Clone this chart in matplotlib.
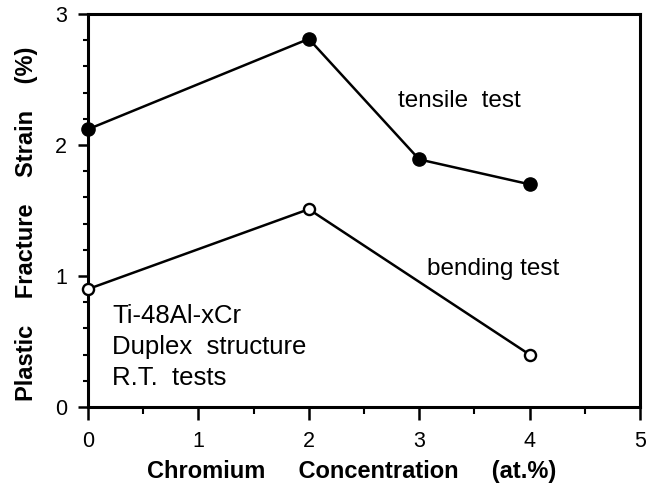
import matplotlib
matplotlib.use("Agg")
import matplotlib.pyplot as plt
from matplotlib.ticker import MultipleLocator

plt.rcParams['font.family'] = ['Liberation Sans', 'DejaVu Sans']

tensile_x = [0, 2, 3, 4]
tensile_y = [2.12, 2.81, 1.89, 1.70]
bending_x = [0, 2, 4]
bending_y = [0.90, 1.51, 0.40]

xticks = [0, 1, 2, 3, 4, 5]
yticks = [0, 1, 2, 3]

fig = plt.figure(figsize=(6.56, 4.87), dpi=100)
ax = fig.add_axes([88/656, 1 - 407/487, (640-88)/656, (407-14)/487])

ax.plot(tensile_x, tensile_y, color='black', lw=1.8, marker='o', ms=9.5,
        mfc='black', mec='black', clip_on=False, zorder=3)
ax.plot(bending_x, bending_y, color='black', lw=1.8, marker='o', ms=8,
        mfc='white', mec='black', mew=1.7, clip_on=False, zorder=3)

ax.set_xlim(0, 5)
ax.set_ylim(0, 3)
ax.set_xticks(xticks)
ax.set_yticks(yticks)
ax.xaxis.set_minor_locator(MultipleLocator(0.5))
ax.yaxis.set_minor_locator(MultipleLocator(0.2))
ax.tick_params(which='both', direction='out', labelsize=15.5)
ax.tick_params(axis='x', which='major', length=9, width=1.8, pad=8)
ax.tick_params(axis='x', which='minor', length=5, width=1.5)
ax.tick_params(axis='y', which='major', length=7, width=1.8, pad=8)
ax.tick_params(axis='y', which='minor', length=3.5, width=1.5)
ax.tick_params(top=False, right=False)
for s in ax.spines.values():
    s.set_linewidth(2.2)

ax.set_xlabel('Chromium     Concentration     (at.%)', fontsize=17, fontweight='bold',
              va='center')
ax.xaxis.set_label_coords(0.478, -0.163)
ax.set_ylabel('Plastic    Fracture    Strain    (%)', fontsize=17, fontweight='bold',
              va='center', ha='center')
ax.yaxis.set_label_coords(-0.112, 0.466)

ax.text(2.81, 2.29, 'tensile  test', fontsize=17.5, ha='left', va='baseline')
ax.text(3.07, 1.008, 'bending test', fontsize=17.5, ha='left', va='baseline')
ax.text(0.217, 0.79, 'Ti-48Al-xCr\nDuplex  structure\nR.T.  tests', fontsize=18.5,
        ha='left', va='top', linespacing=1.38)

fig.savefig('out.png', dpi=100)
